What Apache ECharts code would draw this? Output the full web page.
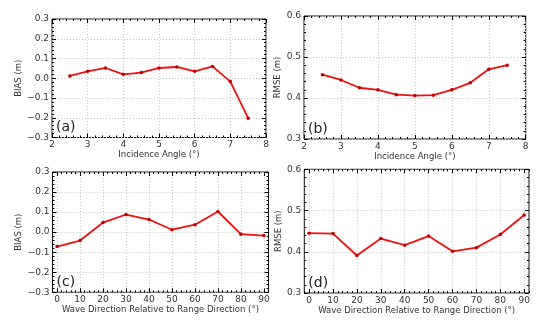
<!DOCTYPE html>
<html><head><meta charset="utf-8">
<script src="https://cdn.jsdelivr.net/npm/echarts@6/dist/echarts.min.js"></script>
<style>html,body{margin:0;padding:0;background:#fff}#c{width:550px;height:324px}</style>
</head><body><div id="c"></div>
<script>
const incAngles = [2.5, 3, 3.5, 4, 4.5, 5, 5.5, 6, 6.5, 7, 7.5];
const biasInc = [0.012, 0.035, 0.052, 0.020, 0.029, 0.052, 0.057, 0.035, 0.060, -0.017, -0.202];
const rmseInc = [0.457, 0.444, 0.425, 0.420, 0.408, 0.406, 0.407, 0.420, 0.437, 0.470, 0.480];
const waveDirs = [0, 10, 20, 30, 40, 50, 60, 70, 80, 90];
const biasDir = [-0.072, -0.042, 0.048, 0.088, 0.063, 0.012, 0.037, 0.103, -0.010, -0.017];
const rmseDir = [0.445, 0.444, 0.391, 0.432, 0.416, 0.438, 0.401, 0.410, 0.442, 0.489];
const incTicks = [2, 3, 4, 5, 6, 7, 8];
const dirTicks = [0, 10, 20, 30, 40, 50, 60, 70, 80, 90];
const biasTicks = [-0.3, -0.2, -0.1, 0.0, 0.1, 0.2, 0.3];
const rmseTicks = [0.3, 0.4, 0.5, 0.6];

const FONT = 'DejaVu Sans';
const TXT = '#333';
const fmtDec = v => { const r = Math.round(v * 10) / 10; return (r < 0 ? '\u2212' : '') + Math.abs(r).toFixed(1); };
const fmtInt = v => String(Math.round(v));

const panels = [
  { grid: {left: 52, top: 19, width: 214, height: 118.5},
    x: {min: 2, max: 8, step: 0.2, ticks: incTicks, fmt: fmtInt, name: 'Incidence Angle (\u00b0)', gap: 11},
    y: {min: -0.3, max: 0.3, step: 0.02, ticks: biasTicks, fmt: fmtDec, name: 'BIAS (m)', gap: 23},
    xs: incAngles, ys: biasInc, label: '(a)' },
  { grid: {left: 304, top: 16, width: 221.7, height: 123},
    x: {min: 2, max: 8, step: 0.2, ticks: incTicks, fmt: fmtInt, name: 'Incidence Angle (\u00b0)', gap: 11},
    y: {min: 0.3, max: 0.6, step: 0.02, ticks: rmseTicks, fmt: fmtDec, name: 'RMSE (m)', gap: 16},
    xs: incAngles, ys: rmseInc, label: '(b)' },
  { grid: {left: 52.5, top: 172, width: 216, height: 120.3},
    x: {min: -2, max: 92, step: 2, ticks: dirTicks, fmt: fmtInt, name: 'Wave Direction Relative to Range Direction (\u00b0)', gap: 12},
    y: {min: -0.3, max: 0.3, step: 0.02, ticks: biasTicks, fmt: fmtDec, name: 'BIAS (m)', gap: 23},
    xs: waveDirs, ys: biasDir, label: '(c)' },
  { grid: {left: 304.3, top: 169.3, width: 224.7, height: 123.7},
    x: {min: -2, max: 92, step: 2, ticks: dirTicks, fmt: fmtInt, name: 'Wave Direction Relative to Range Direction (\u00b0)', gap: 12},
    y: {min: 0.3, max: 0.6, step: 0.02, ticks: rmseTicks, fmt: fmtDec, name: 'RMSE (m)', gap: 16},
    xs: waveDirs, ys: rmseDir, label: '(d)' }
];

const grids = [], xAxes = [], yAxes = [], series = [], graphics = [];

function axisSet(a, gi, isX) {
  const base = {type: 'value', gridIndex: gi, min: a.min, max: a.max, interval: a.step,
    axisLine: {show: false, onZero: false}, splitLine: {show: false}, axisLabel: {show: false}};
  const p1 = isX ? 'bottom' : 'left', p2 = isX ? 'top' : 'right';
  return [
    Object.assign({}, base, {position: p1,
      axisTick: {show: true, inside: true, length: 4, customValues: a.ticks, lineStyle: {color: '#000', width: 1}},
      axisLabel: {show: true, customValues: a.ticks, formatter: a.fmt, margin: 3,
        fontFamily: FONT, fontSize: 9, color: TXT},
      splitLine: {show: true, lineStyle: {type: [1, 2], color: '#c4c4c4', width: 1}},
      name: a.name, nameLocation: 'middle', nameGap: a.gap,
      nameTextStyle: {fontFamily: FONT, fontSize: 8.5, color: TXT}}),
    Object.assign({}, base, {position: p1,
      axisTick: {show: true, inside: true, length: 2, lineStyle: {color: '#000', width: 1}}}),
    Object.assign({}, base, {position: p2,
      axisTick: {show: true, inside: true, length: 4, customValues: a.ticks, lineStyle: {color: '#000', width: 1}}}),
    Object.assign({}, base, {position: p2,
      axisTick: {show: true, inside: true, length: 2, lineStyle: {color: '#000', width: 1}}})
  ];
}

panels.forEach((p, gi) => {
  grids.push(Object.assign({show: true, borderColor: '#111', borderWidth: 1, backgroundColor: 'transparent'}, p.grid));
  const xi = xAxes.length, yi = yAxes.length;
  axisSet(p.x, gi, true).forEach(a => xAxes.push(a));
  axisSet(p.y, gi, false).forEach(a => yAxes.push(a));
  series.push({type: 'line', xAxisIndex: xi, yAxisIndex: yi,
    data: p.xs.map((x, i) => [x, p.ys[i]]),
    lineStyle: {color: '#f01010', width: 1.8},
    itemStyle: {color: '#c00000'},
    symbol: 'circle', symbolSize: 3.5, showSymbol: true, animation: false, z: 5});
  graphics.push({type: 'text', left: p.grid.left + 4, top: p.grid.top + p.grid.height - 17,
    style: {text: p.label, font: '14px "DejaVu Sans"', fill: '#222'}});
});

const chart = echarts.init(document.getElementById('c'), null, {renderer: 'canvas'});
chart.setOption({animation: false, grid: grids, xAxis: xAxes, yAxis: yAxes, series: series, graphic: graphics});
</script></body></html>
